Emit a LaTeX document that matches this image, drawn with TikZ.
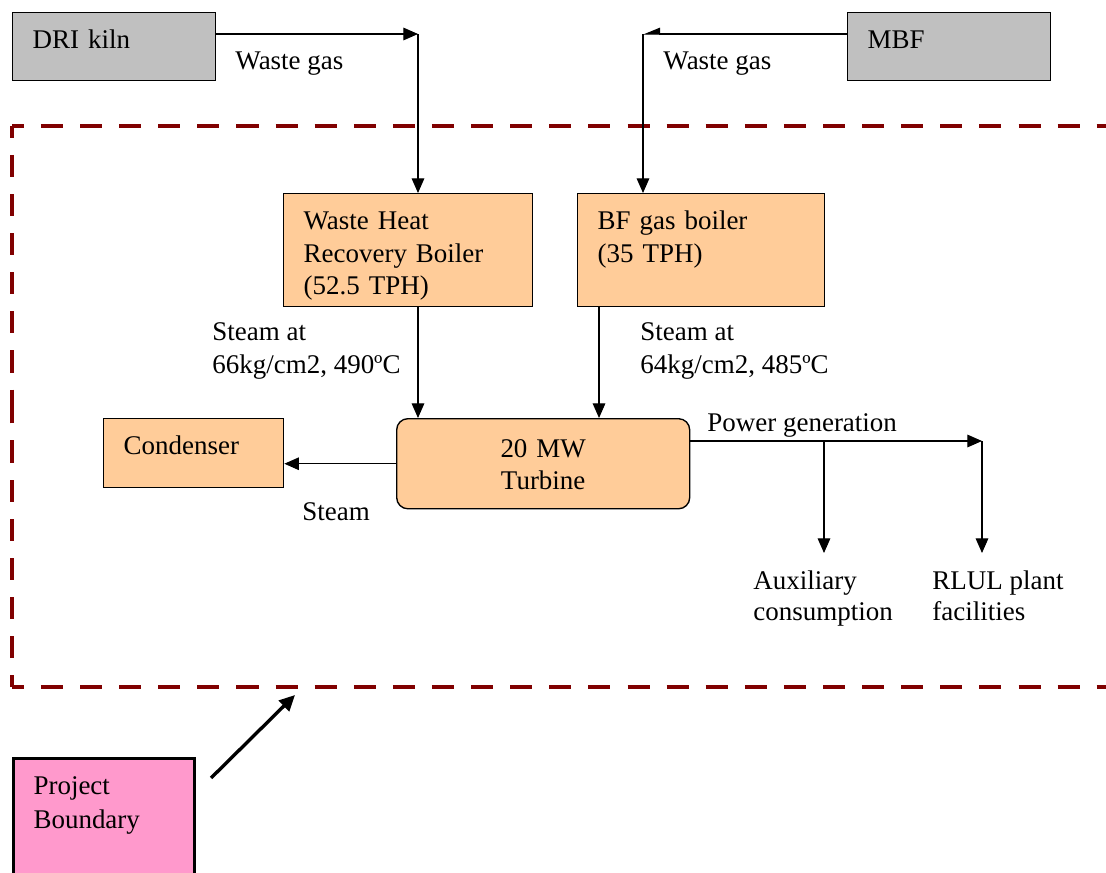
\documentclass[tikz,border=0pt]{standalone}
\usepackage{fontspec}
\setmainfont{Liberation Serif}
\usetikzlibrary{arrows.meta}
\definecolor{kilngray}{HTML}{C0C0C0}
\definecolor{boilerpeach}{HTML}{FFCC99}
\definecolor{boundpink}{HTML}{FF99CC}
\definecolor{bounddark}{HTML}{800000}

\begin{document}
\begin{tikzpicture}[
    x=0.445pt, y=-0.445pt,
    blk/.style={draw,line width=0.6pt,anchor=north west,align=left,
                inner xsep=8.9pt,inner ysep=0pt,text height=16pt,
                font=\fontsize{12}{14.5}\selectfont},
    txt/.style={inner sep=0pt,anchor=base west,align=left,
                font=\fontsize{12}{14.5}\selectfont},
    arr/.style={-{Triangle[length=6.5pt,width=5.6pt]},line width=0.5pt},
    halfarr/.style={-{Triangle[right,length=7pt,width=5.6pt]},line width=0.5pt},
    bigarr/.style={-{Triangle[length=7pt,width=6.5pt]},line width=1.5pt},
    bound/.style={draw=bounddark,line width=2pt,dash pattern=on 9.8pt off 7.6pt,
                  dash phase=4.5pt},
  ]
    \useasboundingbox (0,0) rectangle (1106,873);

    % project boundary (dashed)
    \coordinate (btl) at (12,126);
    \coordinate (bbl) at (12,687);
    \coordinate (bml) at (12,406.5);
    \draw[bound] (btl) -- (1106,126);
    \draw[bound] (bbl) -- (1106,687);
    \draw[bound] (btl) -- (bml);
    \draw[bound] (bbl) -- (bml);

    % sources
    \node[blk,fill=kilngray,text width=72.5pt,text depth=14.2pt] (dri) at (12,12) {DRI kiln};
    \node[blk,fill=kilngray,text width=72.5pt,text depth=14.2pt] (mbf) at (847,12) {MBF};

    % boilers
    \node[blk,fill=boilerpeach,text width=93pt,text depth=34.3pt] (whrb) at (283,193)
      {Waste Heat\\Recovery Boiler\\(52.5 TPH)};
    \node[blk,fill=boilerpeach,text width=92.1pt,text depth=34.3pt] (bfb) at (577,193)
      {BF gas boiler\\(35 TPH)};

    % turbine and condenser
    \node[blk,fill=boilerpeach,rounded corners=5pt,align=center,inner xsep=0pt,
          text width=130.4pt,text height=17.4pt,text depth=22.7pt,
          font=\fontsize{12}{14.2}\selectfont] (turb) at (396,418) {20 MW\\Turbine};
    \node[blk,fill=boilerpeach,text width=62.3pt,text depth=14.7pt] (cond) at (103,418) {Condenser};

    % legend box
    \node[blk,fill=boundpink,line width=1.4pt,text width=62.7pt,text depth=43.2pt,
          font=\fontsize{12}{15.1}\selectfont] (pb) at (12,757) {Project\\Boundary};

    % labels (multi-line ones sit on their last baseline)
    \node[txt] (wg1) at (235,69) {Waste gas};
    \node[txt] (wg2) at (663,69) {Waste gas};
    \node[txt] (st1) at (212,373) {Steam at\\66kg/cm2, 490ºC};
    \node[txt] (st2) at (640,373) {Steam at\\64kg/cm2, 485ºC};
    \node[txt] (st3) at (302,520) {Steam};
    \node[txt] (pwr) at (707,431) {Power generation};
    \node[txt,font=\fontsize{12}{13.4}\selectfont] (auxl) at (753,620) {Auxiliary\\consumption};
    \node[txt,font=\fontsize{12}{13.4}\selectfont] (rlull) at (932,620) {RLUL plant\\facilities};

    % gas lines
    \coordinate (gas1) at (418,34);
    \coordinate (gas2) at (643,34);
    \draw[arr] (dri.east |- gas1) -- (gas1);
    \draw[arr] (gas1) -- (gas1 |- whrb.north);
    \draw[halfarr] (mbf.west |- gas2) -- (gas2);
    \draw[arr] (gas2) -- (gas2 |- bfb.north);

    % steam lines
    \draw[arr] (gas1 |- whrb.south) -- (gas1 |- turb.north);
    \draw[arr] ([xshift=9.8pt]bfb.south west) -- ([xshift=9.8pt]bfb.south west |- turb.north);
    \draw[arr] (turb.west) -- (turb.west -| cond.east);

    % power lines
    \coordinate (pw) at (982,441);
    \coordinate (aux) at (824,553);
    \coordinate (rlul) at (982,553);
    \draw[arr] (turb.east |- pw) -- (pw);
    \draw[arr] (aux |- pw) -- (aux);
    \draw[arr] (pw) -- (rlul);

    % pointer to boundary
    \coordinate (pbtip) at (295,695);
    \draw[bigarr] ([shift={(15,21)}]pb.north east) -- (pbtip);
  \end{tikzpicture}
\end{document}
